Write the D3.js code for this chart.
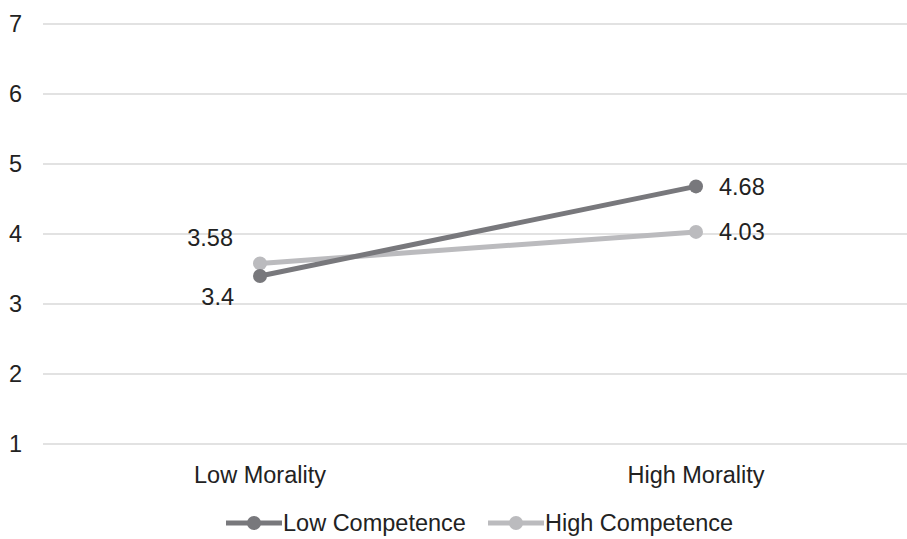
<!DOCTYPE html>
<html><head><meta charset="utf-8">
<script src="https://cdn.jsdelivr.net/npm/d3@7"></script>
<style>body{margin:0;background:#fff}text{font-family:"Liberation Sans",Arial,sans-serif;fill:#222}</style>
</head><body><svg id="c" width="907" height="539"></svg>
<script>
const categories = ["Low Morality", "High Morality"];
const seriesNames = ["Low Competence", "High Competence"];
const lowCompetence = [3.4, 4.68];
const highCompetence = [3.58, 4.03];
const yTicks = [1, 2, 3, 4, 5, 6, 7];
const colors = ["#78787c", "#bbbbbe"];

const svg = d3.select("#c");
const x = d3.scalePoint().domain(categories).range([42, 914]).padding(0.5);
const y = d3.scaleLinear().domain([1, 7]).range([444, 24]);
const fs = 23.5;

// grid
svg.append("g").selectAll("line").data(yTicks).join("line")
  .attr("x1", 43).attr("x2", 907).attr("y1", d => y(d)).attr("y2", d => y(d))
  .attr("stroke", "#d9d9d9").attr("stroke-width", 1.5);
svg.append("g").selectAll("text").data(yTicks).join("text")
  .attr("x", 22).attr("y", d => y(d)).attr("dy", "0.35em").attr("text-anchor", "end")
  .attr("font-size", fs).text(d => d);
svg.append("g").selectAll("text").data(categories).join("text")
  .attr("x", d => x(d)).attr("y", 475).attr("dy", "0.35em").attr("text-anchor", "middle")
  .attr("font-size", fs).text(d => d);

const series = [lowCompetence, highCompetence];
const line = d3.line().x((d, i) => x(categories[i])).y(d => y(d));
[1, 0].forEach(si => {
  const g = svg.append("g");
  g.append("path").datum(series[si]).attr("d", line).attr("fill", "none")
    .attr("stroke", colors[si]).attr("stroke-width", 5);
  g.selectAll("circle").data(series[si]).join("circle")
    .attr("cx", (d, i) => x(categories[i])).attr("cy", d => y(d)).attr("r", 7)
    .attr("fill", colors[si]);
});

// data labels
svg.append("text").attr("x", x(categories[0]) - 26).attr("y", y(lowCompetence[0]) + 21)
  .attr("dy", "0.35em").attr("text-anchor", "end").attr("font-size", fs).text(lowCompetence[0]);
svg.append("text").attr("x", x(categories[1]) + 23).attr("y", y(lowCompetence[1]))
  .attr("dy", "0.35em").attr("text-anchor", "start").attr("font-size", fs).text(lowCompetence[1]);
svg.append("text").attr("x", x(categories[0]) - 27).attr("y", y(highCompetence[0]) - 26)
  .attr("dy", "0.35em").attr("text-anchor", "end").attr("font-size", fs).text(highCompetence[0]);
svg.append("text").attr("x", x(categories[1]) + 23).attr("y", y(highCompetence[1]))
  .attr("dy", "0.35em").attr("text-anchor", "start").attr("font-size", fs).text(highCompetence[1]);

// legend
const legX = [226, 488];
seriesNames.forEach((name, i) => {
  const g = svg.append("g").attr("transform", `translate(${legX[i]},523)`);
  g.append("line").attr("x1", 0).attr("x2", 56).attr("stroke", colors[i]).attr("stroke-width", 5);
  g.append("circle").attr("cx", 28).attr("r", 7).attr("fill", colors[i]);
  g.append("text").attr("x", 57).attr("dy", "0.35em").attr("font-size", fs).text(name);
});
</script></body></html>
